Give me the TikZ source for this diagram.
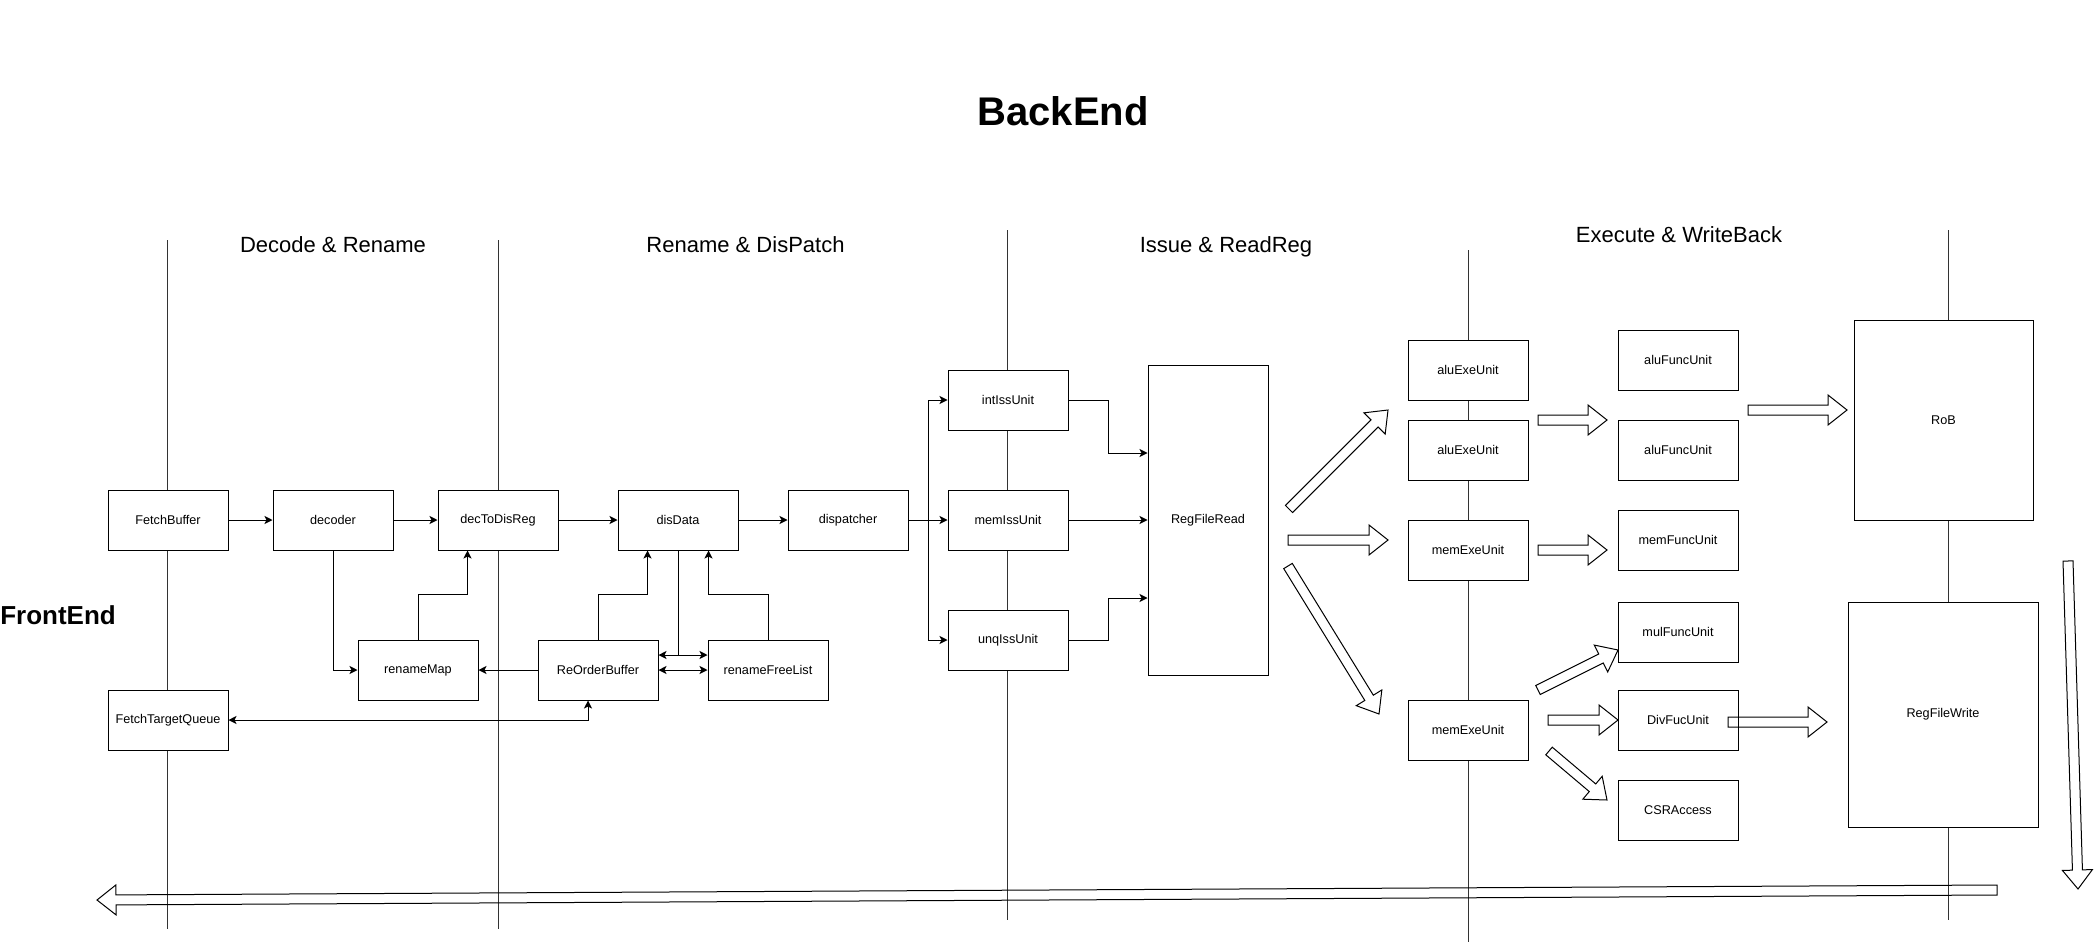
\documentclass[tikz,border=0pt]{standalone}
\usepackage{fontspec}
\setmainfont{Liberation Sans}
\usetikzlibrary{arrows.meta,calc}
\tikzset{
  box/.style={draw, line width=0.75pt, fill=white, minimum width=90pt, minimum height=45pt, inner sep=0pt, font=\fontsize{9.5}{11}\selectfont},
  tipc/.tip={Stealth[length=6pt,width=6pt,inset=1.5pt]},
  arr/.style={line width=0.75pt, -tipc},
  darr/.style={line width=0.75pt, tipc-tipc},
  plain/.style={line width=0.75pt},
  stageline/.style={draw=black!80, line width=0.75pt},
  barrow/.style={draw, line width=0.75pt, line join=miter},
  stagelabel/.style={font=\fontsize{16.5}{19}\selectfont, anchor=base, inner sep=0pt},
}
\newcommand\blockarr[2]{%
  \path ($(#2)!14.25pt!(#1)$) coordinate (bah);
  \draw[barrow] ($(#1)!3.75pt!90:(#2)$) -- ($(bah)!3.75pt!90:(#2)$) -- ($(bah)!11.25pt!90:(#2)$) -- (#2) -- ($(bah)!11.25pt!-90:(#2)$) -- ($(bah)!3.75pt!-90:(#2)$) -- ($(#1)!3.75pt!-90:(#2)$) -- cycle;}
\begin{document}
\begin{tikzpicture}[x=0.75pt, y=-0.75pt]
\useasboundingbox (0,0) rectangle (2094,942);
% stage separator lines
\coordinate (l1t) at (167,240); \coordinate (l1b) at (167,929);
\coordinate (l2t) at (498,240); \coordinate (l2b) at (498,929);
\coordinate (l3t) at (1007,230); \coordinate (l3b) at (1007,920);
\coordinate (l4t) at (1468,250); \coordinate (l4b) at (1468,942);
\coordinate (l5t) at (1948,230); \coordinate (l5b) at (1948,920);
\draw[stageline] (l1t) -- (l1b);
\draw[stageline] (l2t) -- (l2b);
\draw[stageline] (l3t) -- (l3b);
\draw[stageline] (l4t) -- (l4b);
\draw[stageline] (l5t) -- (l5b);
% titles
\node[font=\bfseries\fontsize{30}{36}\selectfont, anchor=base, inner sep=0pt] (title) at (1063,125) {BackEnd};
\node[font=\bfseries\fontsize{19.5}{24}\selectfont, anchor=base west, inner sep=0pt] (front) at (0,624) {FrontEnd};
\node[stagelabel] (s1) at (333,252) {Decode \& Rename};
\node[stagelabel] (s2) at (745.5,252) {Rename \& DisPatch};
\node[stagelabel] (s3) at (1226,252) {Issue \& ReadReg};
\node[stagelabel] (s4) at (1679,242) {Execute \& WriteBack};
% boxes
\node[box] (FetchBuffer) at (168,520) {FetchBuffer};
\node[box] (decoder) at (333,520) {decoder};
\node[box] (decToDisReg) at (498,520) {decToDisReg};
\node[box] (disData) at (678,520) {disData};
\node[box] (dispatcher) at (848,520) {dispatcher};
\node[box] (FTQ) at (168,720) {FetchTargetQueue};
\node[box] (renameMap) at (418,670) {renameMap};
\node[box] (ROB) at (598,670) {ReOrderBuffer};
\node[box] (freeList) at (768,670) {renameFreeList};
\node[box] (intIss) at (1008,400) {intIssUnit};
\node[box] (memIss) at (1008,520) {memIssUnit};
\node[box] (unqIss) at (1008,640) {unqIssUnit};
\node[box, minimum height=232.5pt] (RFR) at (1208,520) {RegFileRead};
\node[box] (alu1) at (1468,370) {aluExeUnit};
\node[box] (alu2) at (1468,450) {aluExeUnit};
\node[box] (mem1) at (1468,550) {memExeUnit};
\node[box] (mem2) at (1468,730) {memExeUnit};
\node[box] (aluF1) at (1678,360) {aluFuncUnit};
\node[box] (aluF2) at (1678,450) {aluFuncUnit};
\node[box] (memF) at (1678,540) {memFuncUnit};
\node[box] (mulF) at (1678,632) {mulFuncUnit};
\node[box] (divF) at (1678,720) {DivFucUnit};
\node[box] (csr) at (1678,810) {CSRAccess};
\node[box, minimum width=134.25pt, minimum height=150pt] (RoB) at (1943.5,420) {RoB};
\node[box, minimum width=142.5pt, minimum height=168.75pt] (RFW) at (1943,714.5) {RegFileWrite};
% connectors
\draw[arr] (FetchBuffer) -- (decoder);
\draw[arr] (decoder) -- (decToDisReg);
\draw[arr] (decToDisReg) -- (disData);
\draw[arr] (disData) -- (dispatcher);
\draw[arr] (decoder.south) |- (renameMap.west);
\draw[arr] (renameMap.north) -- ++(0,-45) -| ([xshift=22.5pt]decToDisReg.south west);
\draw[arr] (ROB.west) -- (renameMap.east);
\draw[arr] (ROB.north) -- ++(0,-45) -| ([xshift=22.5pt]disData.south west);
\draw[arr] (freeList.north) -- ++(0,-45) -| ([xshift=-22.5pt]disData.south east);
\draw[plain] (disData.south) -- ++(0,105);
\draw[darr] ([yshift=11.25pt]ROB.east) -- ([yshift=11.25pt]freeList.west);
\draw[darr] (ROB.east) -- (freeList.west);
\draw[darr] (FTQ.east) -| ([xshift=-7.5pt]ROB.south);
\draw[arr] (dispatcher.east) -- (memIss.west);
\draw[arr] (dispatcher.east) -- ++(20,0) |- (intIss.west);
\draw[arr] (dispatcher.east) -- ++(20,0) |- (unqIss.west);
\draw[arr] (intIss.east) -- ++(40,0) |- ([yshift=50.25pt]RFR.west);
\draw[arr] (memIss.east) -- (RFR.west);
\draw[arr] (unqIss.east) -- ++(40,0) |- ([yshift=-58.5pt]RFR.west);
% block arrows
\coordinate (b1s) at (1289,509);  \coordinate (b1e) at (1388,410);
\coordinate (b2s) at (1288,540);  \coordinate (b2e) at (1388,540);
\coordinate (b3s) at (1288,566);  \coordinate (b3e) at (1379,714);
\coordinate (b4s) at (1538,420);  \coordinate (b4e) at (1607,420);
\coordinate (b5s) at (1538,550);  \coordinate (b5e) at (1607,550);
\coordinate (b6s) at (1748,410);  \coordinate (b6e) at (1847,410);
\coordinate (b7s) at (1538,690);  \coordinate (b7e) at (1618,650);
\coordinate (b8s) at (1548,720);  \coordinate (b8e) at (1618,720);
\coordinate (b9s) at (1549,751);  \coordinate (b9e) at (1607,800);
\coordinate (b10s) at (1728,722); \coordinate (b10e) at (1827,722);
\coordinate (b11s) at (2068,561); \coordinate (b11e) at (2078,889);
\coordinate (b12s) at (1997,890); \coordinate (b12e) at (97,900);
\blockarr{b1s}{b1e}
\blockarr{b2s}{b2e}
\blockarr{b3s}{b3e}
\blockarr{b4s}{b4e}
\blockarr{b5s}{b5e}
\blockarr{b6s}{b6e}
\blockarr{b7s}{b7e}
\blockarr{b8s}{b8e}
\blockarr{b9s}{b9e}
\blockarr{b10s}{b10e}
\blockarr{b11s}{b11e}
\blockarr{b12s}{b12e}
\end{tikzpicture}
\end{document}
